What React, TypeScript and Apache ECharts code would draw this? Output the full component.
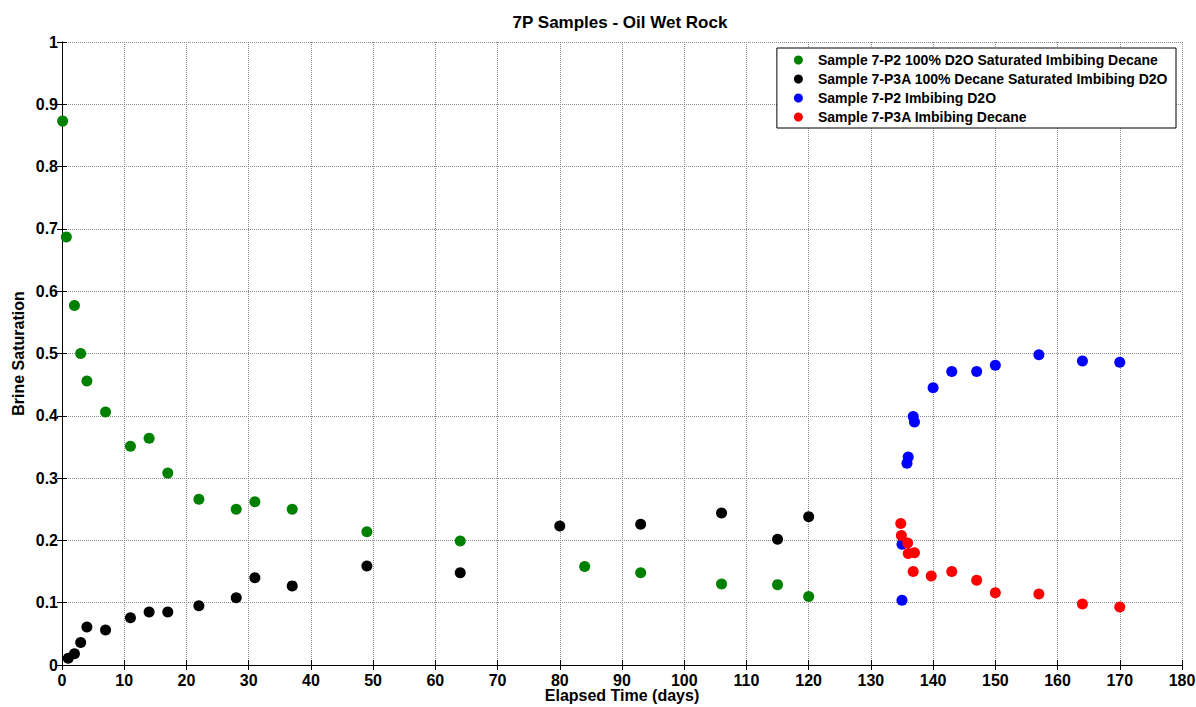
import React, { useEffect, useRef } from "react";
import * as echarts from "echarts";

const titleText = "7P Samples - Oil Wet Rock";
const xAxisName = "Elapsed Time (days)";
const yAxisName = "Brine Saturation";

const seriesNames = [
  "Sample 7-P2 100% D2O Saturated Imbibing Decane",
  "Sample 7-P3A 100% Decane Saturated Imbibing D2O",
  "Sample 7-P2 Imbibing D2O",
  "Sample 7-P3A Imbibing Decane",
];
const seriesColors = ["#008000", "#000000", "#0000ff", "#ff0000"];

const p2DecaneDays = [0.1, 0.7, 2, 3, 4, 7, 11, 14, 17, 22, 28, 31, 37, 49, 64, 84, 93, 106, 115, 120];
const p2DecaneSat = [0.873, 0.687, 0.577, 0.5, 0.456, 0.406, 0.351, 0.364, 0.308, 0.266, 0.25, 0.262, 0.25, 0.214, 0.199, 0.158, 0.148, 0.13, 0.129, 0.11];

const p3aD2ODays = [1, 2, 3, 4, 7, 11, 14, 17, 22, 28, 31, 37, 49, 64, 80, 93, 106, 115, 120];
const p3aD2OSat = [0.011, 0.018, 0.036, 0.061, 0.056, 0.076, 0.085, 0.085, 0.095, 0.108, 0.14, 0.127, 0.159, 0.148, 0.223, 0.226, 0.244, 0.202, 0.238];

const p2D2ODays = [135, 135, 135.8, 136, 136.8, 137, 140, 143, 147, 150, 157, 164, 170];
const p2D2OSat = [0.104, 0.194, 0.324, 0.334, 0.399, 0.39, 0.445, 0.471, 0.471, 0.481, 0.498, 0.488, 0.486];

const p3aDecaneDays = [134.8, 134.9, 135.9, 136, 137, 136.8, 139.7, 143, 147, 150, 157, 164, 170];
const p3aDecaneSat = [0.227, 0.208, 0.196, 0.179, 0.18, 0.15, 0.143, 0.15, 0.136, 0.116, 0.114, 0.098, 0.093];

const allDays = [p2DecaneDays, p3aD2ODays, p2D2ODays, p3aDecaneDays];
const allSat = [p2DecaneSat, p3aD2OSat, p2D2OSat, p3aDecaneSat];

const FONT = "'Liberation Sans', Arial, sans-serif";

export default function App() {
  const ref = useRef<HTMLDivElement>(null);
  useEffect(() => {
    if (!ref.current) return;
    const chart = echarts.init(ref.current, undefined, { renderer: "svg" });
    const axisLine = { show: true, lineStyle: { color: "#000", width: 1 } };
    const tick = { show: true, inside: true, length: 5, lineStyle: { color: "#000", width: 1 } };
    const labelStyle = { color: "#000", fontWeight: "bold" as const, fontSize: 16, fontFamily: FONT };
    const gridLine = { show: true, lineStyle: { type: [1, 1], color: "#8a8a8a", width: 1 } };
    chart.setOption({
      animation: false,
      backgroundColor: "#fff",
      title: {
        text: titleText,
        left: 615,
        textAlign: "center",
        top: 9,
        textStyle: { fontSize: 17, fontWeight: "bold", color: "#000", fontFamily: FONT },
      },
      legend: {
        orient: "vertical",
        right: 20,
        top: 48,
        padding: [5, 8, 4, 17],
        itemGap: 5,
        itemWidth: 9,
        itemHeight: 9,
        icon: "circle",
        borderColor: "#000",
        borderWidth: 1,
        borderRadius: 0,
        backgroundColor: "#fff",
        textStyle: { fontSize: 14, fontWeight: "bold", color: "#000", fontFamily: FONT, lineHeight: 14, padding: [0, 0, 0, 10] },
        data: seriesNames,
      },
      grid: { left: 62, right: 14, top: 42, bottom: 42, containLabel: false, outerBoundsMode: "none" },
      xAxis: [
        {
          type: "value",
          min: 0,
          max: 180,
          interval: 10,
          name: xAxisName,
          nameLocation: "middle",
          nameGap: 22,
          nameMoveOverlap: false,
          nameTextStyle: { ...labelStyle, lineHeight: 16 },
          axisLine,
          axisTick: tick,
          axisLabel: { ...labelStyle, margin: 7 },
          splitLine: gridLine,
        },
        {
          type: "value",
          position: "top",
          min: 0,
          max: 180,
          interval: 10,
          axisLine,
          axisTick: tick,
          axisLabel: { show: false },
          splitLine: { show: false },
        },
      ],
      yAxis: [
        {
          type: "value",
          min: 0,
          max: 1,
          interval: 0.1,
          name: yAxisName,
          nameLocation: "middle",
          nameGap: 36,
          nameMoveOverlap: false,
          nameTextStyle: { ...labelStyle },
          axisLine,
          axisTick: tick,
          axisLabel: { ...labelStyle, margin: 4 },
          splitLine: gridLine,
        },
        {
          type: "value",
          position: "right",
          min: 0,
          max: 1,
          interval: 0.1,
          axisLine,
          axisTick: tick,
          axisLabel: { show: false },
          splitLine: { show: false },
        },
      ],
      series: seriesNames.map((name, i) => ({
        name,
        type: "scatter",
        symbol: "circle",
        symbolSize: 11,
        itemStyle: { color: seriesColors[i], opacity: 1 },
        data: allDays[i].map((d, j) => [d, allSat[i][j]]),
      })),
    });
    return () => chart.dispose();
  }, []);
  return <div ref={ref} style={{ position: "fixed", left: 0, top: 0, width: 1196, height: 707 }} />;
}
